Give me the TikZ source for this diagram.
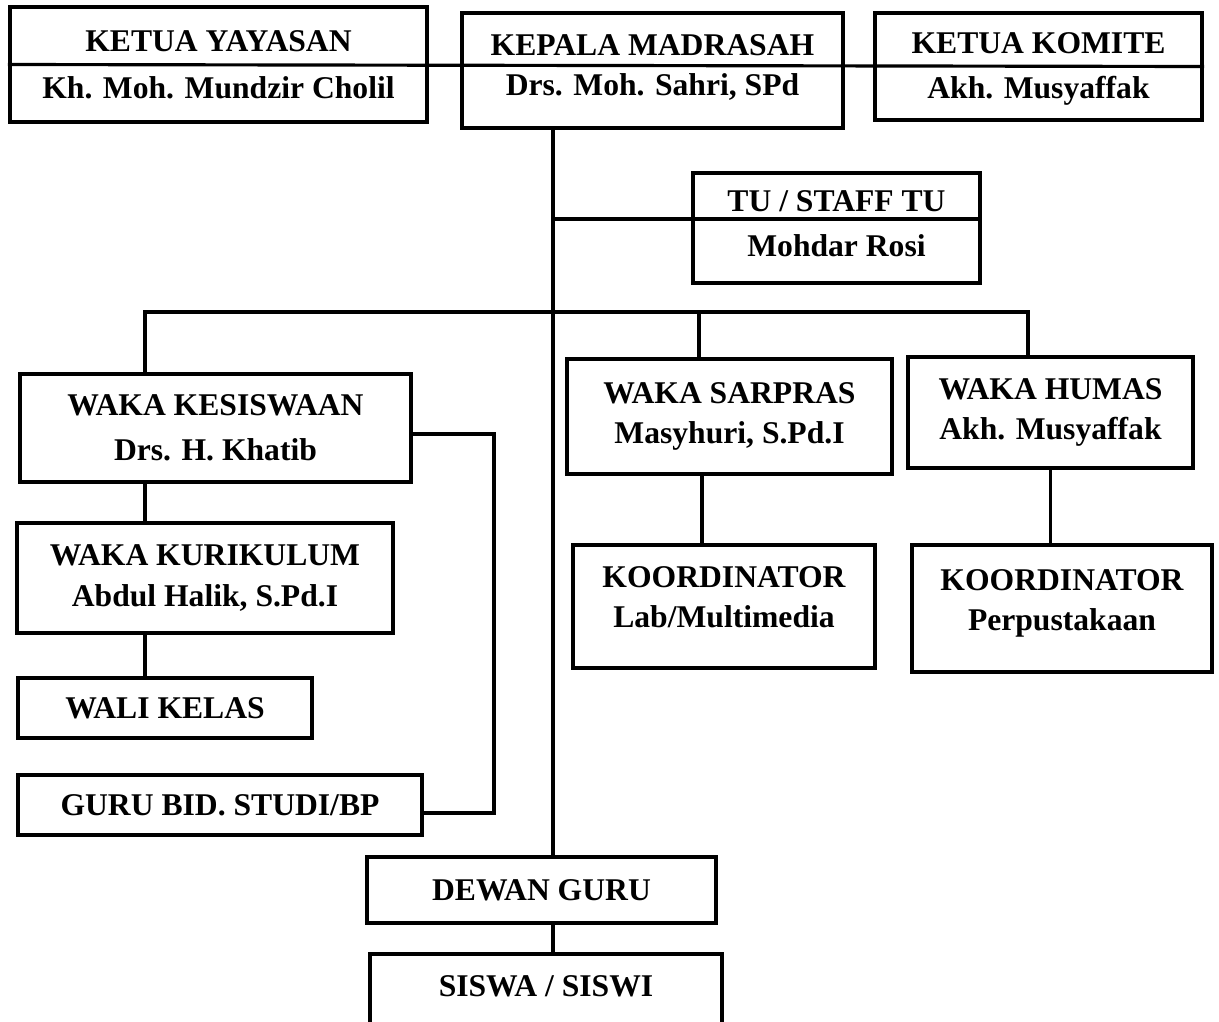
\documentclass[tikz,border=0pt]{standalone}
\usepackage{fontspec}
\setmainfont{Liberation Serif}
\usetikzlibrary{calc}

\tikzset{
  orgbox/.style n args={2}{draw, line width=2.3pt, align=center, inner sep=0pt,
    minimum width=#1*0.02cm, minimum height=#2*0.02cm,
    font=\fontsize{18}{22.8}\selectfont\bfseries},
  link/.style={line width=2pt},
  spine/.style={line width=2.4pt},
}

\begin{document}
\begin{tikzpicture}[x=0.02cm, y=-0.02cm]
\useasboundingbox (0,0) rectangle (1219,1021);
\clip (0,0) rectangle (1219,1021);

% top row
\node[orgbox={417}{115}] (yayasan) at (218.5,64.5) {KETUA YAYASAN\\[4pt]Kh. Moh. Mundzir Cholil};
\node[orgbox={381}{115}, text depth=6pt] (kepala) at (652.5,70.5) {KEPALA MADRASAH\\Drs. Moh. Sahri, SPd};
\node[orgbox={327}{107}, text depth=1pt] (komite) at (1038.5,66.5) {KETUA KOMITE\\[3pt]Akh. Musyaffak};
\node[orgbox={287}{110}, text depth=5pt] (tu) at (836.5,228) {TU / STAFF TU\\[3pt]Mohdar Rosi};

% waka row
\node[orgbox={391}{108}] (kesiswaan) at (215.5,428) {WAKA KESISWAAN\\[3pt]Drs. H. Khatib};
\node[orgbox={325}{115}] (sarpras) at (729.5,416.5) {WAKA SARPRAS\\Masyhuri, S.Pd.I};
\node[orgbox={285}{111}] (humas) at (1050.5,412.5) {WAKA HUMAS\\Akh. Musyaffak};

\node[orgbox={376}{110}] (kurikulum) at (205,578) {WAKA KURIKULUM\\Abdul Halik, S.Pd.I};
\node[orgbox={302}{123}, text depth=11pt] (lab) at (724,606.5) {KOORDINATOR\\Lab/Multimedia};
\node[orgbox={300}{127}, text depth=10pt] (perpus) at (1062,608.5) {KOORDINATOR\\Perpustakaan};

\node[orgbox={294}{60}] (wali) at (165,708) {WALI KELAS};
\node[orgbox={404}{60}] (guru) at (220,805) {GURU BID. STUDI/BP};

% bottom
\node[orgbox={349}{66}] (dewan) at (541.5,890) {DEWAN GURU};
\node[orgbox={352}{72}, text depth=4pt] (siswa) at (546,990) {SISWA / SISWI};

% lines
\coordinate (spinex) at (553,0);
\coordinate (tuline) at (553,219);
\coordinate (busL) at (145,312);
\coordinate (busS) at (699,312);
\coordinate (busR) at (1028,312);
\coordinate (loopR) at (494,434);
\coordinate (loopB) at (494,813);

\draw[line width=1.8pt] (yayasan.west) -- (komite.east);
\draw[spine] (kepala.south -| spinex) -- (dewan.north -| spinex);
\draw[link] (tuline) -- (tu.east |- tuline);

\draw[link] (kesiswaan.north -| busL) -- (busL) -- (busR) -- (humas.north -| busR);
\draw[link] (busS) -- (sarpras.north -| busS);
\draw[link] (kesiswaan.south -| busL) -- (kurikulum.north -| busL);
\draw[link] (kurikulum.south -| busL) -- (wali.north -| busL);
\draw[link] (kesiswaan.east |- loopR) -- (loopR) -- (loopB) -- (guru.east |- loopB);

\draw[link] (sarpras.south -| 702,0) -- (lab.north -| 702,0);
\draw[link] (humas.south) -- (perpus.north -| humas.south);
\draw[link] (dewan.south -| spinex) -- (siswa.north -| spinex);
\end{tikzpicture}
\end{document}
